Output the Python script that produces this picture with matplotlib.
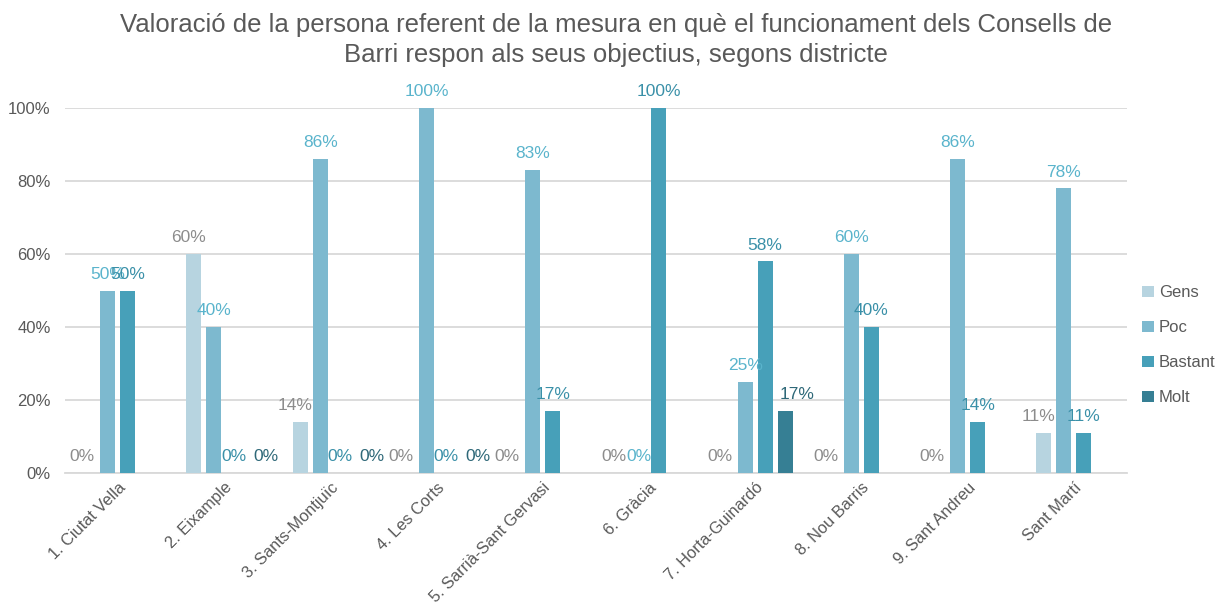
import numpy as np
import matplotlib
matplotlib.use("Agg")
import matplotlib.pyplot as plt

plt.rcParams['font.family'] = ['Liberation Sans', 'DejaVu Sans']

districts = ["1. Ciutat Vella", "2. Eixample", "3. Sants-Montjuïc", "4. Les Corts",
             "5. Sarrià-Sant Gervasi", "6. Gràcia", "7. Horta-Guinardó",
             "8. Nou Barris", "9. Sant Andreu", "Sant Martí"]
series = ["Gens", "Poc", "Bastant", "Molt"]

# percentages per district; None = no answer in that category
gens    = [0, 60, 14, 0, 0, 0, 0, 0, 0, 11]
poc     = [50, 40, 86, 100, 83, 0, 25, 60, 86, 78]
bastant = [50, 0, 0, 0, 17, 100, 58, 40, 14, 11]
molt    = [None, 0, 0, 0, None, None, 17, None, None, None]

bar_colors = ["#b7d4e0", "#7db9cf", "#47a0b9", "#367f94"]
label_colors = ["#8c8c8c", "#5ab4cc", "#3a90a8", "#2e6878"]
label_shift = [-0.05, 0.0, 0.0, 0.11]
grey = "#595959"

fig = plt.figure(figsize=(12.32, 6.08), dpi=100)
ax = fig.add_axes([0.0524, 0.222, 0.8624, 0.6004])

x = np.arange(len(districts))
pitch = 0.188
width = 0.141

for i, vals in enumerate([gens, poc, bastant, molt]):
    pos = x + (i - 1.5) * pitch
    h = [np.nan if v is None else v / 100 for v in vals]
    ax.bar(pos, h, width, color=bar_colors[i], label=series[i], zorder=3)
    for px, v in zip(pos, vals):
        if v is None:
            continue
        ax.text(px + label_shift[i], v / 100 + 0.024, f"{v}%", ha="center", va="bottom",
                fontsize=12.5, color=label_colors[i], zorder=4)

ax.set_xlim(-0.5, len(districts) - 0.5)
ax.set_ylim(0, 1.0)
ax.set_yticks(np.arange(0, 1.01, 0.2))
ax.set_yticklabels([f"{int(round(t * 100))}%" for t in np.arange(0, 1.01, 0.2)])
ax.yaxis.grid(True, color="#d9d9d9", linewidth=1.3, zorder=0)
ax.set_axisbelow(True)
for s in ["top", "right", "left"]:
    ax.spines[s].set_visible(False)
ax.spines["bottom"].set_color("#d9d9d9")
ax.spines["bottom"].set_linewidth(1.3)
ax.tick_params(axis="both", length=0, colors=grey, labelsize=12)
ax.tick_params(axis="y", pad=10)
ax.set_xticks(x)
ax.set_xticklabels(districts, rotation=45, ha="right", rotation_mode="anchor",
                   fontsize=11.8, color=grey)
ax.tick_params(axis="x", pad=5)

fig.suptitle("Valoració de la persona referent de la mesura en què el funcionament dels Consells de\n"
             "Barri respon als seus objectius, segons districte",
             x=0.5, y=0.978, fontsize=18.5, color=grey, linespacing=1.3)

ax.legend(loc="center left", bbox_to_anchor=(1.0, 0.35), frameon=False,
          fontsize=12, labelcolor=grey, handlelength=0.7, handleheight=0.7,
          handletextpad=0.3, labelspacing=1.2)

fig.savefig("out.png", dpi=100)
